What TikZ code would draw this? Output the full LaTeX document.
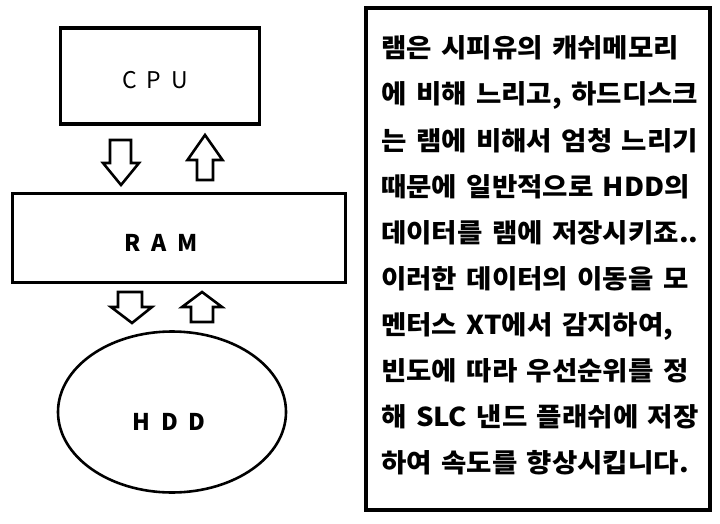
\documentclass[tikz,border=0pt]{standalone}
\usepackage{fontspec}
\usetikzlibrary{shapes.geometric}
\newfontfamily\kr{Noto Sans CJK KR}
\newfontfamily\krwide[FakeStretch=1.06, WordSpace=1.5]{Noto Sans CJK KR}
\tikzset{
  boxline/.style={draw=black, line width=3.5pt},
  blockarrow/.style={draw=black, line width=2.6pt, fill=white, line join=miter},
  label/.style={font=\kr\fontsize{23}{23}\selectfont, inner sep=0pt},
  txtline/.style={font=\krwide\bfseries\fontsize{26}{26}\selectfont, anchor=base west, inner sep=0pt},
}
\begin{document}
\begin{tikzpicture}[x=1pt, y=-1pt]
\useasboundingbox (0,0) rectangle (720,524);
\fill[white] (0,0) rectangle (720,524);
% boxes
\node[boxline, minimum width=199pt, minimum height=96pt, inner sep=0pt] (cpu) at (160,76) {};
\node[label] (cpulbl) at (155,80) {C\hspace{10pt}P\hspace{10pt}U};
\node[boxline, minimum width=333pt, minimum height=89pt, inner sep=0pt] (ram) at (179,238) {};
\node[label, font=\kr\bfseries\fontsize{23}{23}\selectfont] (ramlbl) at (161,243) {R\hspace{11pt}A\hspace{11pt}M};
\node[draw=black, line width=2.6pt, ellipse, minimum width=228pt, minimum height=161pt, inner sep=0pt] (hdd) at (172,412) {};
\node[label, font=\kr\bfseries\fontsize{23}{23}\selectfont] (hddlbl) at (169,422) {H\hspace{11pt}D\hspace{11pt}D};
% block arrows
\draw[blockarrow] (110,140) -- (131,140) -- (131,163) -- (139,163) -- (121,185) -- (103,163) -- (110,163) -- cycle;
\draw[blockarrow] (197,180) -- (213,180) -- (213,160) -- (222.5,160) -- (205,135) -- (187.5,160) -- (197,160) -- cycle;
\draw[blockarrow] (118,292) -- (142,292) -- (142,307) -- (152,307) -- (132,323) -- (111,307) -- (118,307) -- cycle;
\draw[blockarrow] (191,322) -- (213,322) -- (213,307) -- (222,307) -- (202,292) -- (182,307) -- (191,307) -- cycle;
% text box
\node[draw=black, line width=4pt, minimum width=344pt, minimum height=502pt, inner sep=0pt] (note) at (537.5,259) {};
\node[txtline] (l1) at (381,58) {램은 시피유의 캐쉬메모리};
\node[txtline] (l2) at (381,104) {에 비해 느리고, 하드디스크};
\node[txtline] (l3) at (381,150) {는 램에 비해서 엄청 느리기};
\node[txtline] (l4) at (381,196) {때문에 일반적으로 HDD의};
\node[txtline] (l5) at (381,242) {데이터를 램에 저장시키죠..};
\node[txtline] (l6) at (381,288) {이러한 데이터의 이동을 모};
\node[txtline] (l7) at (381,334) {멘터스 XT에서 감지하여,};
\node[txtline] (l8) at (381,380) {빈도에 따라 우선순위를 정};
\node[txtline] (l9) at (381,426) {해 SLC 낸드 플래쉬에 저장};
\node[txtline] (l10) at (381,472) {하여 속도를 향상시킵니다.};
\end{tikzpicture}
\end{document}
